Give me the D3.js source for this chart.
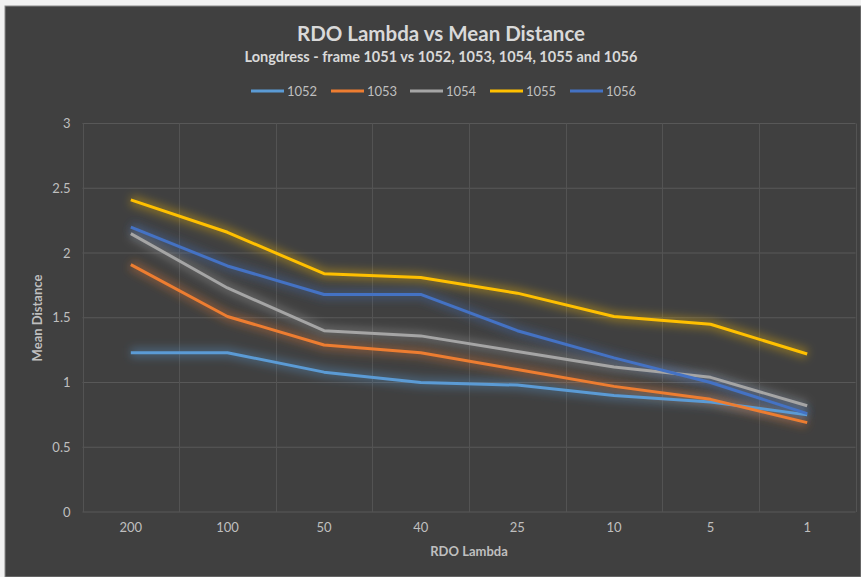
<!DOCTYPE html>
<html>
<head>
<meta charset="utf-8">
<script src="https://cdn.jsdelivr.net/npm/d3@7"></script>
<style>
  html, body { margin: 0; padding: 0; background: #f2f2f2; }
  svg { display: block; }
  text { font-family: Lato, "Open Sans", sans-serif; }
</style>
</head>
<body>
<svg id="chart" width="861" height="577"></svg>
<script>
// RDO lambda settings along the x axis
const lambdas = ["200", "100", "50", "40", "25", "10", "5", "1"];

// Mean distance from frame 1051 to each later frame
const s1052 = [1.23, 1.23, 1.08, 1.00, 0.98, 0.90, 0.85, 0.75];
const s1053 = [1.91, 1.51, 1.29, 1.23, 1.10, 0.97, 0.87, 0.69];
const s1054 = [2.15, 1.73, 1.40, 1.36, 1.24, 1.12, 1.04, 0.82];
const s1055 = [2.41, 2.16, 1.84, 1.81, 1.69, 1.51, 1.45, 1.22];
const s1056 = [2.20, 1.90, 1.68, 1.68, 1.40, 1.19, 1.00, 0.76];

const seriesNames = ["1052", "1053", "1054", "1055", "1056"];
const seriesValues = [s1052, s1053, s1054, s1055, s1056];
const seriesColors = ["#5B9BD5", "#ED7D31", "#A5A5A5", "#FFC000", "#4472C4"];

const yTicks = [0, 0.5, 1, 1.5, 2, 2.5, 3];

const svg = d3.select("#chart");

// chart background panel
svg.append("rect").attr("x", 5).attr("y", 6).attr("width", 856).attr("height", 571)
  .attr("fill", "#404040").attr("stroke", "#8a8a8a").attr("stroke-width", 1);

const plot = { left: 82.5, right: 855.5, top: 123.5, bottom: 512 };

const x = d3.scaleBand().domain(lambdas).range([plot.left, plot.right]).padding(0);
const y = d3.scaleLinear().domain([0, 3]).range([plot.bottom, plot.top]);

// glow filter for the lines
const defs = svg.append("defs");
const glow = defs.append("filter").attr("id", "glow")
  .attr("x", "-10%").attr("y", "-30%").attr("width", "120%").attr("height", "160%");
glow.append("feGaussianBlur").attr("stdDeviation", 4.5);

// horizontal gridlines
svg.append("g").selectAll("line").data(yTicks).join("line")
  .attr("x1", plot.left).attr("x2", plot.right)
  .attr("y1", d => y(d)).attr("y2", d => y(d))
  .attr("stroke", "#585858").attr("stroke-width", 1);

// vertical gridlines at category boundaries
const edges = lambdas.map(d => x(d)).concat([x(lambdas[lambdas.length - 1]) + x.bandwidth()]);
svg.append("g").selectAll("line").data(edges).join("line")
  .attr("x1", d => Math.round(d) + 0.5).attr("x2", d => Math.round(d) + 0.5)
  .attr("y1", plot.top).attr("y2", plot.bottom)
  .attr("stroke", "#535353").attr("stroke-width", 1);

// y axis tick labels
const yAxis = d3.axisLeft(y).tickValues(yTicks).tickSize(0).tickPadding(0)
  .tickFormat(d3.format("~g"));
const yg = svg.append("g").attr("transform", `translate(${plot.left - 12},0)`).call(yAxis);
yg.select(".domain").remove();
yg.selectAll("text").attr("fill", "#bfbfbf").style("font-size", "13px")
  .style("font-family", "Lato, 'Open Sans', sans-serif");

// x axis tick labels
const xAxis = d3.axisBottom(x).tickSize(0).tickPadding(0);
const xg = svg.append("g").attr("transform", `translate(0,${plot.bottom + 11})`).call(xAxis);
xg.select(".domain").remove();
xg.selectAll("text").attr("fill", "#bfbfbf").style("font-size", "13px")
  .style("font-family", "Lato, 'Open Sans', sans-serif");

// series lines
const line = d3.line()
  .x((d, i) => x(lambdas[i]) + x.bandwidth() / 2)
  .y(d => y(d));

const lines = svg.append("g");
seriesValues.forEach((vals, k) => {
  lines.append("path").datum(vals)
    .attr("d", line).attr("fill", "none")
    .attr("stroke", seriesColors[k]).attr("stroke-width", 10)
    .attr("stroke-opacity", 0.35).attr("stroke-linejoin", "round")
    .attr("filter", "url(#glow)");
});
seriesValues.forEach((vals, k) => {
  lines.append("path").datum(vals)
    .attr("d", line).attr("fill", "none")
    .attr("stroke", seriesColors[k]).attr("stroke-width", 3)
    .attr("stroke-linejoin", "round");
});

// titles
svg.append("text").attr("x", 441).attr("y", 41).attr("text-anchor", "middle")
  .attr("fill", "#d9d9d9").style("font-size", "20.5px").style("font-weight", "bold")
  .text("RDO Lambda vs Mean Distance");
svg.append("text").attr("x", 441).attr("y", 62).attr("text-anchor", "middle")
  .attr("fill", "#d9d9d9").style("font-size", "14.5px").style("font-weight", "bold")
  .text("Longdress - frame 1051 vs 1052, 1053, 1054, 1055 and 1056");

// axis titles
svg.append("text").attr("x", 469).attr("y", 556).attr("text-anchor", "middle")
  .attr("fill", "#bfbfbf").style("font-size", "13px").style("font-weight", "bold")
  .text("RDO Lambda");
svg.append("text").attr("transform", "translate(42,318) rotate(-90)")
  .attr("text-anchor", "middle")
  .attr("fill", "#bfbfbf").style("font-size", "13px").style("font-weight", "bold")
  .text("Mean Distance");

// legend
const legendX = [251, 331, 410, 490, 570];
const legend = svg.append("g");
seriesNames.forEach((name, k) => {
  legend.append("line").attr("x1", legendX[k]).attr("x2", legendX[k] + 33)
    .attr("y1", 91).attr("y2", 91)
    .attr("stroke", seriesColors[k]).attr("stroke-width", 3);
  legend.append("text").attr("x", legendX[k] + 36).attr("y", 96)
    .attr("fill", "#bfbfbf").style("font-size", "13px").text(name);
});
</script>
</body>
</html>
